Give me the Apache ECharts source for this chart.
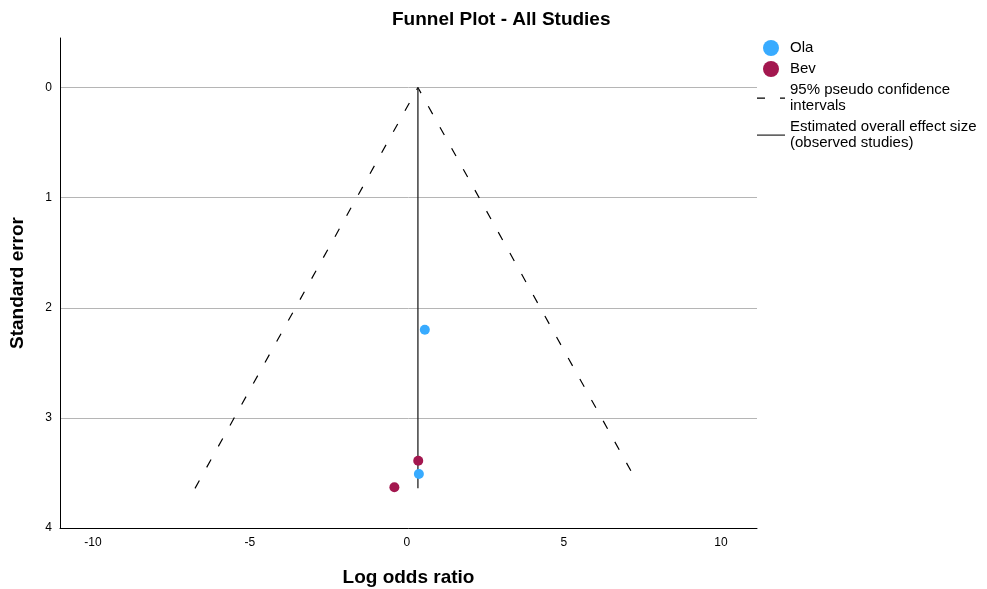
<!DOCTYPE html>
<html>
<head>
<meta charset="utf-8">
<script src="https://cdn.jsdelivr.net/npm/echarts@6/dist/echarts.min.js"></script>
<style>html,body{margin:0;padding:0;background:#fff}#c{width:987px;height:589px}</style>
</head>
<body>
<div id="c"></div>
<script>
// Data
const olaPoints = [[0.57, 2.20], [0.38, 3.51]];            // [log odds ratio, standard error]
const bevPoints = [[0.36, 3.39], [-0.40, 3.63]];
const ciLine = [[-6.75, 3.64], [0.35, 0], [7.23, 3.53]];   // 95% pseudo confidence interval funnel
const effectLine = [[0.35, 0], [0.35, 3.64]];              // estimated overall effect size
const seriesNames = ['Ola', 'Bev', '95% pseudo confidence intervals', 'Estimated overall effect size (observed studies)'];
const legendLabels = ['Ola', 'Bev', '95% pseudo confidence\nintervals', 'Estimated overall effect size\n(observed studies)'];

const FONT = '"Liberation Sans", Arial, sans-serif';
const dashIcon = 'path://M0,0 M28,16 M0,7.5 L8,7.5 L8,8.7 L0,8.7 Z M23,7.5 L28,7.5 L28,8.7 L23,8.7 Z';
const solidIcon = 'path://M0,0 M28,16 M0,7.5 L28,7.5 L28,8.7 L0,8.7 Z';
const chart = echarts.init(document.getElementById('c'), null, {renderer: 'canvas'});
chart.setOption({
  animation: false,
  backgroundColor: '#ffffff',
  title: {
    text: 'Funnel Plot - All Studies',
    left: 392, top: 10, padding: 0,
    textStyle: {fontFamily: FONT, fontSize: 19, fontWeight: 'bold', color: '#000'}
  },
  legend: {
    orient: 'vertical', left: 757, top: 40, padding: 0,
    itemWidth: 28, itemHeight: 16, itemGap: 5,
    data: [
      {name: seriesNames[0], icon: 'circle'},
      {name: seriesNames[1], icon: 'circle'},
      {name: seriesNames[2], icon: dashIcon},
      {name: seriesNames[3], icon: solidIcon}
    ],
    formatter: function (n) { return legendLabels[seriesNames.indexOf(n)]; },
    textStyle: {fontFamily: FONT, fontSize: 15, lineHeight: 16, color: '#000'}
  },
  grid: {left: 60, right: 230, top: 38, bottom: 61, containLabel: false, outerBoundsMode: 'none'},
  xAxis: {
    type: 'value', min: -11.05, max: 11.15,
    name: 'Log odds ratio', nameLocation: 'middle', nameGap: 40,
    nameTextStyle: {fontFamily: FONT, fontSize: 19, fontWeight: 'bold', color: '#000'},
    axisLine: {show: true, onZero: false, lineStyle: {color: '#000', width: 1}},
    axisTick: {show: false},
    axisLabel: {showMinLabel: false, showMaxLabel: false, margin: 9, fontFamily: FONT, fontSize: 12, color: '#000'},
    splitLine: {show: false}
  },
  yAxis: {
    type: 'value', inverse: true, min: -0.45, max: 4,
    name: 'Standard error', nameLocation: 'middle', nameGap: 33,
    nameTextStyle: {fontFamily: FONT, fontSize: 19, fontWeight: 'bold', color: '#000'},
    axisLine: {show: true, onZero: false, lineStyle: {color: '#000', width: 1}},
    axisTick: {show: false},
    axisLabel: {showMinLabel: false, margin: 8, fontFamily: FONT, fontSize: 12, color: '#000'},
    splitLine: {show: true, showMinLine: false, lineStyle: {color: '#b5b5b5', width: 1}}
  },
  series: [
    {name: seriesNames[0], type: 'scatter', data: olaPoints, symbol: 'circle', symbolSize: 10,
     itemStyle: {color: '#38abff', opacity: 1}, z: 5},
    {name: seriesNames[1], type: 'scatter', data: bevPoints, symbol: 'circle', symbolSize: 10,
     itemStyle: {color: '#a3174f', opacity: 1}, z: 5},
    {name: seriesNames[2], type: 'line', data: ciLine, symbol: 'none', showSymbol: false,
     lineStyle: {color: '#000', width: 1.2, type: [9, 15]}, itemStyle: {color: '#000'}, z: 3},
    {name: seriesNames[3], type: 'line', data: effectLine, symbol: 'none', showSymbol: false,
     lineStyle: {color: '#222', width: 1.3, type: 'solid'}, itemStyle: {color: '#222'}, z: 3}
  ]
});
</script>
</body>
</html>
